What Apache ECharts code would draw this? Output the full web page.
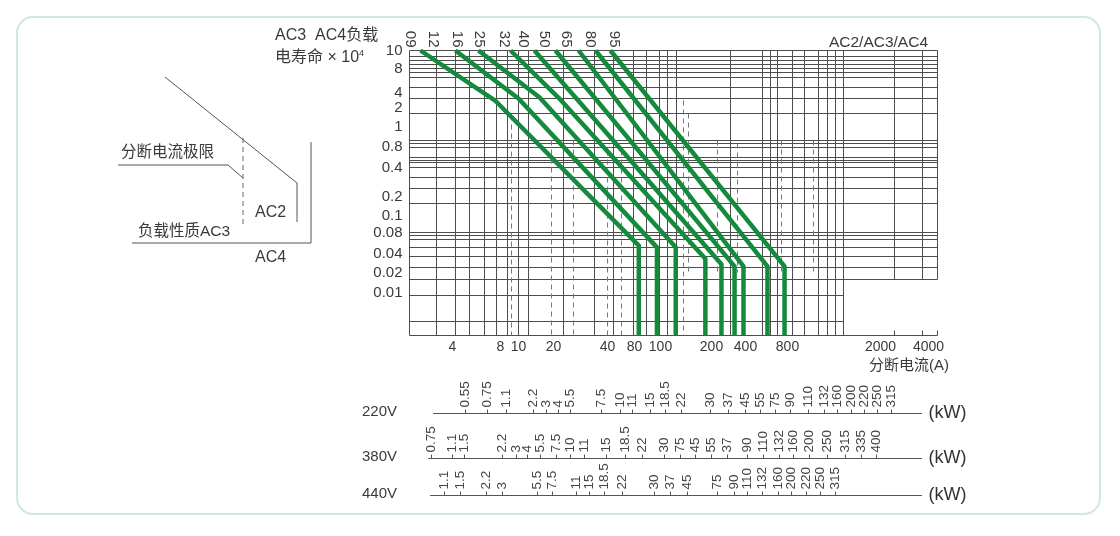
<!DOCTYPE html>
<html><head><meta charset="utf-8">
<script src="https://cdn.jsdelivr.net/npm/echarts@6/dist/echarts.min.js"></script>
<style>html,body{margin:0;padding:0;background:#fff}#c{width:1120px;height:536px}</style>
</head><body><div id="c"></div>
<script>
// ================= DATA =================
const contactorRatings = ['09','12','16','25','32','40','50','65','80','95'];
const curveNames   = ['09/12','16','25','32','40','50','65','80','95'];
// life (x10^4 operations) at the top of every curve
const lifeTop = 10;
const lifeFloor = 0.00225;
const startCurrent = [2.52, 4.17, 5.82, 9.06, 13.7, 20.5, 27.6, 34.3, 43.1];      // A at life 10
const kneeCurrent  = [7.4, 10.0, 15.2, 21.3, null, null, null, null, null];        // A
const kneeLife     = [2.76, 3.03, 3.17, 3.17, null, null, null, null, null];        // x10^4
const breakCurrent = [83, 97, 123, 184, 245, 320, 384, 575, 762];                  // A (breaking limit)
const breakLife    = [0.052, 0.049, 0.049, 0.033, 0.027, 0.025, 0.025, 0.025, 0.025];

const currentTicks = [4, 8, 10, 20, 40, 80, 100, 200, 400, 800, 2000, 4000];
const lifeTicks    = [10, 8, 4, 2, 1, 0.8, 0.4, 0.2, 0.1, 0.08, 0.04, 0.02, 0.01];

const kw220 = ['0.55','0.75','1.1','2.2','3','4','5.5','7.5','10','11','15','18.5','22','30','37','45','55','75','90','110','132','160','200','220','250','315'];
const kw380 = ['0.75','1.1','1.5','2.2','3','4','5.5','7.5','10','11','15','18.5','22','30','75','45','55','37','90','110','132','160','200','250','315','335','400'];
const kw440 = ['1.1','1.5','2.2','3','5.5','7.5','11','15','18.5','22','30','37','45','75','90','110','132','160','200','220','250','315'];

// ================= LAYOUT (nomogram scale positions, grid units) =================
const LAY = {
  left: 409.5, top: 50.5, w: 528, h: 285,
  currentTickPos: [43, 91, 109, 144, 198, 225, 251, 302, 336, 378, 471, 519],
  lifeTickPos:    [0, 18, 42, 57, 76, 96, 117, 146, 165, 182, 203, 222, 242],
  ratingPos:      [1, 24, 48, 70, 95, 114, 135, 157, 181, 205],
  vFull:  [0, 27, 46, 60, 75, 87, 98, 109, 119, 154, 185, 204, 224, 237, 250, 258, 267, 321, 353, 361, 368, 383, 395, 409, 418, 426, 434],
  vRight: [485, 513, 528],
  hFull:  [0, 6, 10, 14, 18, 22, 27, 37, 48, 63, 90, 93, 97, 107, 110, 112, 117, 127, 138, 153, 182, 185, 189, 197, 206, 217, 229, 285],
  hLeft:  [245, 271],
  dashed: [[102,65,285],[142,90,285],[164,90,285],[198,100,285],[212,100,285],[274,50,285],[279,63,222],[308,90,222],[328,93,222],[372,90,222],[404,90,222]],
  kw220Pos: [465,487,506,533,546,558,570,601,620,632,650,665,681,710,728,745,760,775,790,808,824,837,851,864,877,891],
  kw380Pos: [431,452,464,502,516,527,540,556,570,584,606,625,642,664,680,695,711,727,747,763,779,793,809,827,845,861,876],
  kw440Pos: [444,460,486,502,537,552,576,589,604,622,654,670,687,717,734,747,762,778,791,806,820,835]
};

// piecewise-log nomogram scale
function nomo(v, vals, pos) {
  const n = vals.length, inc = vals[1] > vals[0];
  let i = 0;
  for (i = 0; i < n - 2; i++) { if (inc ? v <= vals[i + 1] : v >= vals[i + 1]) break; }
  const a = Math.log(vals[i]), b = Math.log(vals[i + 1]);
  return pos[i] + (Math.log(v) - a) / (b - a) * (pos[i + 1] - pos[i]);
}
const toX = I => nomo(I, currentTicks, LAY.currentTickPos);
const toY = L => Math.min(LAY.h, nomo(L, lifeTicks, LAY.lifeTickPos));

const FONT = "'Liberation Sans','Noto Sans CJK SC',sans-serif";
const GREEN = '#148a3c';
const GRIDC = '#4d4d4d';
const TXT = '#3a3a3a';

// ================= SERIES =================
const solid = [];
LAY.vFull.forEach(x => solid.push({coords: [[x, 0], [x, LAY.h]]}));
LAY.vRight.forEach(x => solid.push({coords: [[x, 0], [x, 229]]}));
LAY.vRight.forEach(x => solid.push({coords: [[x, 280], [x, LAY.h]]}));
LAY.hFull.forEach(y => solid.push({coords: [[0, y], [LAY.w, y]]}));
LAY.hLeft.forEach(y => solid.push({coords: [[0, y], [434, y]]}));
const dashed = LAY.dashed.map(d => ({coords: [[d[0], d[1]], [d[0], d[2]]]}));

const series = [
  {type: 'lines', coordinateSystem: 'cartesian2d', xAxisIndex: 0, yAxisIndex: 0, silent: true, z: 1,
   lineStyle: {color: GRIDC, width: 1, opacity: 1}, data: solid},
  {type: 'lines', coordinateSystem: 'cartesian2d', xAxisIndex: 0, yAxisIndex: 0, silent: true, z: 1,
   lineStyle: {color: '#777', width: 1, type: [5, 4], opacity: 1}, data: dashed}
];
curveNames.forEach((nm, k) => {
  const pts = [[toX(startCurrent[k]), toY(lifeTop)]];
  if (kneeCurrent[k] != null) pts.push([toX(kneeCurrent[k]), toY(kneeLife[k])]);
  pts.push([toX(breakCurrent[k]), toY(breakLife[k])]);
  pts.push([toX(breakCurrent[k]), toY(lifeFloor)]);
  series.push({type: 'line', name: nm, xAxisIndex: 0, yAxisIndex: 0, data: pts, showSymbol: false,
    clip: false, z: 3, silent: true,
    lineStyle: {color: GREEN, width: 4.5, join: 'round'}});
});

// kW scales
const kwRows = [
  {labels: kw220, pos: LAY.kw220Pos, y: 412.5, x0: 433, x1: 921, name: '220V'},
  {labels: kw380, pos: LAY.kw380Pos, y: 457.5, x0: 428, x1: 921, name: '380V'},
  {labels: kw440, pos: LAY.kw440Pos, y: 494.5, x0: 430, x1: 921, name: '440V'}
];

const grids = [{left: LAY.left, top: LAY.top, width: LAY.w, height: LAY.h}];
const xAxes = [
  {gridIndex: 0, type: 'value', min: 0, max: LAY.w, position: 'bottom',
   axisLine: {show: false}, axisTick: {show: false}, splitLine: {show: false},
   axisLabel: {customValues: LAY.currentTickPos, showMinLabel: true, showMaxLabel: true, margin: 5, fontSize: 14, color: TXT, fontFamily: FONT,
     formatter: v => String(currentTicks[LAY.currentTickPos.indexOf(v)])}},
  {gridIndex: 0, type: 'value', min: 0, max: LAY.w, position: 'top',
   axisLine: {show: false}, axisTick: {show: false}, splitLine: {show: false},
   axisLabel: {customValues: LAY.ratingPos, showMinLabel: true, showMaxLabel: true, margin: 3, rotate: 90, fontSize: 15, color: TXT, fontFamily: FONT,
     formatter: v => contactorRatings[LAY.ratingPos.indexOf(v)]}}
];
const yAxes = [
  {gridIndex: 0, type: 'value', min: 0, max: LAY.h, inverse: true,
   axisLine: {show: false}, axisTick: {show: false}, splitLine: {show: false},
   axisLabel: {customValues: LAY.lifeTickPos, showMinLabel: true, showMaxLabel: true, margin: 7, fontSize: 15, color: TXT, fontFamily: FONT,
     formatter: v => String(lifeTicks[LAY.lifeTickPos.indexOf(v)])}}
];
kwRows.forEach((r, i) => {
  const g = i + 1;
  const posU = r.pos.map(p => p - 409);
  grids.push({left: r.x0 + 0.5, top: r.y, width: r.x1 - r.x0, height: 1});
  xAxes.push({gridIndex: g, type: 'value', min: r.x0 - 409, max: r.x1 - 409, position: 'top',
    axisLine: {show: true, lineStyle: {color: '#555', width: 1}},
    axisTick: {show: true, customValues: posU, length: 4, lineStyle: {color: '#555'}},
    splitLine: {show: false},
    axisLabel: {customValues: posU, showMinLabel: true, showMaxLabel: true, hideOverlap: false,
      rotate: 90, margin: 5, fontSize: 13.5, color: '#444', fontFamily: FONT,
      formatter: v => r.labels[posU.indexOf(v)]},
    name: '(kW)', nameLocation: 'end', nameGap: 7,
    nameTextStyle: {fontSize: 18, color: '#333', fontFamily: FONT, verticalAlign: 'middle'}});
  yAxes.push({gridIndex: g, type: 'value', show: false, min: 0, max: 1});
});

// ================= GRAPHIC (frame, titles, schematic legend) =================
const T = (x, y, text, size, align, extra) => Object.assign({type: 'text', x, y,
  style: {text, fontSize: size, fontFamily: FONT, fill: TXT, align: align || 'left', verticalAlign: 'middle'}}, extra || {});
const graphic = [
  {type: 'rect', shape: {x: 17, y: 17, width: 1083, height: 497, r: 16}, style: {fill: 'none', stroke: '#cfe7e7', lineWidth: 2}, z: -1},
  T(275, 36, 'AC3  AC4负载', 16),
  {type: 'text', x: 275, y: 58, style: {text: '电寿命 × 10{s|4}', fontSize: 16, fontFamily: FONT, fill: TXT, verticalAlign: 'middle',
    rich: {s: {fontSize: 9, verticalAlign: 'top', padding: [0, 0, 9, 0], fontFamily: FONT, fill: TXT}}}},
  T(928, 43, 'AC2/AC3/AC4', 15.5, 'right'),
  T(949, 366, '分断电流(A)', 15, 'right'),
  T(362, 412, '220V', 15),
  T(362, 457, '380V', 15),
  T(362, 494, '440V', 15),
  // schematic
  {type: 'polyline', shape: {points: [[165, 77], [297, 183], [297, 222]]}, style: {stroke: '#555', lineWidth: 1, fill: 'none'}},
  {type: 'polyline', shape: {points: [[118, 165], [228, 165], [243, 178]]}, style: {stroke: '#555', lineWidth: 1, fill: 'none'}},
  {type: 'line', shape: {x1: 243, y1: 138, x2: 243, y2: 225}, style: {stroke: '#666', lineWidth: 1, lineDash: [5, 4]}},
  {type: 'polyline', shape: {points: [[311, 142], [311, 243], [132, 243]]}, style: {stroke: '#555', lineWidth: 1, fill: 'none'}},
  T(121, 153, '分断电流极限', 15.5),
  T(255, 213, 'AC2', 16),
  T(138, 232, '负载性质AC3', 15.5),
  T(255, 258, 'AC4', 16)
];

const chart = echarts.init(document.getElementById('c'), null, {renderer: 'canvas'});
chart.setOption({
  animation: false,
  backgroundColor: '#fff',
  grid: grids, xAxis: xAxes, yAxis: yAxes,
  series, graphic
});
</script></body></html>
